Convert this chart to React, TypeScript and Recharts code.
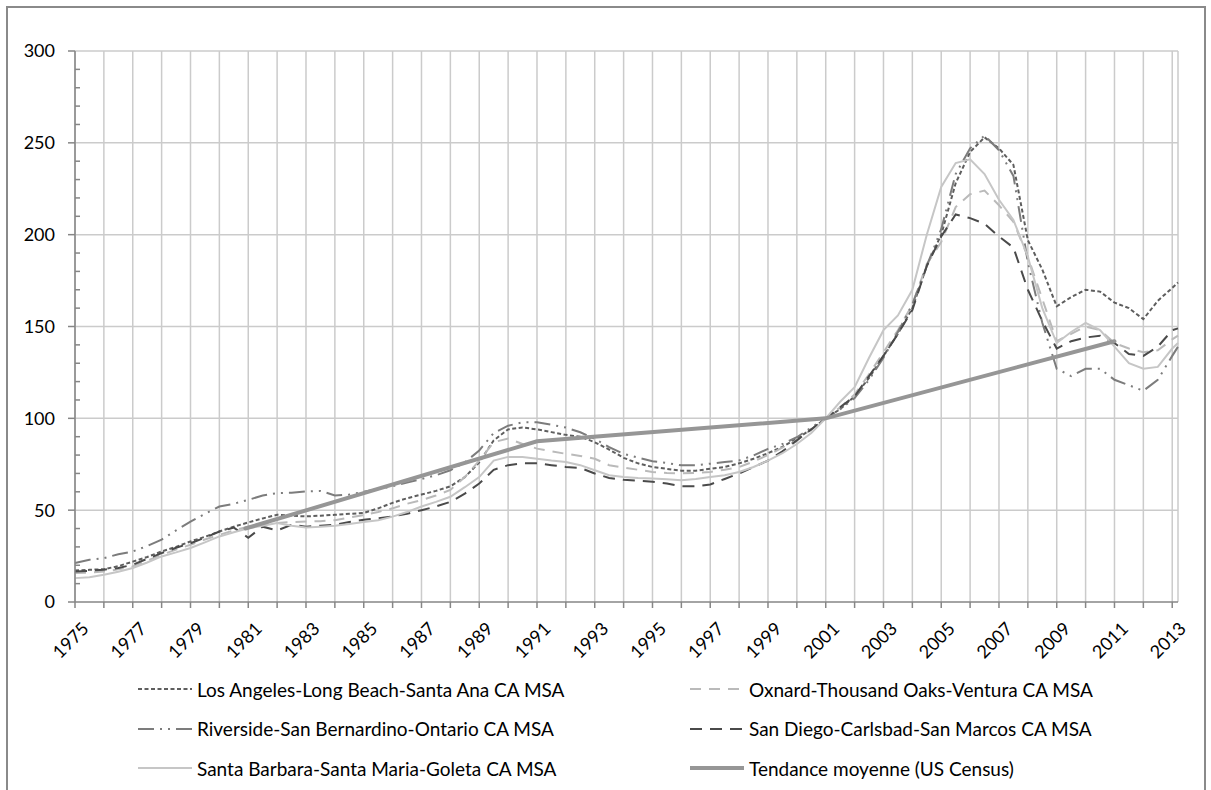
import React from 'react';
import { LineChart, Line, XAxis, YAxis, CartesianGrid, ReferenceLine } from 'recharts';

// half-year time points (the last one is the final quarter shown)
const TIMES = [
  1975, 1975.5, 1976, 1976.5, 1977, 1977.5, 1978, 1978.5, 1979, 1979.5,
  1980, 1980.5, 1981, 1981.5, 1982, 1982.5, 1983, 1983.5, 1984, 1984.5,
  1985, 1985.5, 1986, 1986.5, 1987, 1987.5, 1988, 1988.5, 1989, 1989.5,
  1990, 1990.5, 1991, 1991.5, 1992, 1992.5, 1993, 1993.5, 1994, 1994.5,
  1995, 1995.5, 1996, 1996.5, 1997, 1997.5, 1998, 1998.5, 1999, 1999.5,
  2000, 2000.5, 2001, 2001.5, 2002, 2002.5, 2003, 2003.5, 2004, 2004.5,
  2005, 2005.5, 2006, 2006.5, 2007, 2007.5, 2008, 2008.5, 2009, 2009.5,
  2010, 2010.5, 2011, 2011.5, 2012, 2012.5, 2013, 2013.2,
];

const LOS_ANGELES = [
  17.2, 17.5, 17.9, 19.5, 22, 24.5, 27.5, 30, 33, 35.5,
  38.4, 41, 43.3, 45.5, 47.5, 47, 46.6, 47, 47.5, 48,
  48.5, 51, 54, 56.5, 58.5, 60.5, 63, 68, 76, 88,
  94, 95, 94, 92.5, 91, 90, 87, 83, 78.5, 75.5,
  73.5, 72.5, 71.5, 71.5, 72.5, 73.5, 75.5, 78, 81, 84.5,
  89, 94, 100, 105, 112, 122, 134, 146, 160, 183,
  200, 228, 245, 253, 247, 238, 197, 181, 161, 166,
  170, 169, 163, 160, 154, 164, 171, 174,
];

const OXNARD = [
  15.8, 16, 16.6, 17.8, 19.4, 22.5, 25.7, 28.5, 31.2, 34,
  36.6, 39, 41, 42, 43, 43.5, 43.8, 44, 44.5, 46,
  47.3, 49, 51, 53.5, 55.5, 58, 61, 68, 77, 87,
  89, 86, 83.5, 82, 80.7, 79.5, 78, 74.5, 73.2, 72,
  70.8, 70.3, 70, 70.3, 70.8, 72, 73.5, 76.5, 80, 84,
  88, 94, 100, 106, 113, 124, 136, 148, 162, 184,
  196, 215, 222, 224, 216, 207, 188, 165, 142, 146,
  150, 148, 141, 138, 136, 137, 143, 145,
];

const RIVERSIDE = [
  21.2, 23, 23.9, 26, 27.5, 30.5, 34, 39, 43.8, 48,
  52, 53.5, 55.6, 58, 59.3, 59.5, 60.2, 60.5, 58, 58.5,
  60, 61.5, 63, 65, 67, 69, 71.7, 76, 82.5, 92,
  96, 97.8, 97.8, 96.5, 95, 92.4, 88.8, 84.3, 80.7, 78.6,
  76.6, 75.7, 74.4, 74.4, 75.3, 76.2, 77.1, 79.8, 83.4, 86,
  89.7, 95, 100, 105, 111, 121, 133, 147, 162, 183,
  203, 233, 247, 254, 246, 232, 185, 152, 127, 123,
  127, 127, 121, 118, 115, 121, 134, 139,
];

const SAN_DIEGO = [
  16.6, 17, 17.6, 18.5, 20.3, 23.5, 26.6, 29.5, 32, 35,
  38.4, 40.5, 35, 41, 39, 42, 41, 41.5, 42, 43.5,
  44.8, 45.5, 46.6, 48, 50, 52, 54.5, 59, 64.5, 72,
  74.5, 75.5, 75.5, 74.5, 73.5, 73, 70, 67.5, 66.5, 66,
  65.5, 64.5, 63, 63, 64, 67, 70, 73.5, 77, 82,
  88, 94, 100, 106, 112, 123, 134, 146, 159, 183,
  199, 211, 209, 206, 199, 193, 170, 153, 138, 142,
  144, 145, 141, 135, 134, 139, 148, 149,
];

const SANTA_BARBARA = [
  13, 13.5, 14.8, 16.5, 18.5, 21.5, 24.8, 27, 29.4, 32.5,
  35.7, 38, 40.2, 41.5, 43, 41.5, 40.5, 41, 41.5, 42.5,
  43.5, 44.5, 46.5, 49, 52, 54.5, 57.3, 62.5, 68, 77,
  79, 79, 78, 77, 76.2, 74.5, 71.7, 69, 68, 67.5,
  67.2, 66.8, 66.3, 67, 68, 69, 70.8, 73.5, 77, 81,
  86, 92, 100, 109, 117, 133, 148, 156, 170, 200,
  226, 239, 241, 233, 219, 208, 188, 160, 141, 147,
  152, 148, 139, 130, 127, 128, 138, 141,
];

// census trend
const TREND_T = [1980.9, 1991, 2001, 2011];
const TREND_V = [40, 87.5, 100, 142];

const YEARS = [
  1975, 1976, 1977, 1978, 1979, 1980, 1981, 1982, 1983, 1984, 1985, 1986, 1987,
  1988, 1989, 1990, 1991, 1992, 1993, 1994, 1995, 1996, 1997, 1998, 1999, 2000,
  2001, 2002, 2003, 2004, 2005, 2006, 2007, 2008, 2009, 2010, 2011, 2012, 2013,
];
const Y_TICKS = [0, 10, 20, 30, 40, 50, 60, 70, 80, 90, 100, 110, 120, 130, 140, 150,
  160, 170, 180, 190, 200, 210, 220, 230, 240, 250, 260, 270, 280, 290, 300];
const Y_GRID = [50, 100, 150, 200, 250, 300];

const SERIES = [
  { key: 'la', name: 'Los Angeles-Long Beach-Santa Ana CA MSA', color: '#5e5e5e', width: 2, dash: '4 2.5', col: 0, row: 0 },
  { key: 'ox', name: 'Oxnard-Thousand Oaks-Ventura CA MSA', color: '#bababa', width: 2, dash: '11 8', col: 1, row: 0 },
  { key: 'rv', name: 'Riverside-San Bernardino-Ontario CA MSA', color: '#7c7c7c', width: 2, dash: '16 6 2 6 2 6', col: 0, row: 1 },
  { key: 'sd', name: 'San Diego-Carlsbad-San Marcos CA MSA', color: '#4a4a4a', width: 2, dash: '12 8', col: 1, row: 1 },
  { key: 'sb', name: 'Santa Barbara-Santa Maria-Goleta CA MSA', color: '#c6c6c6', width: 2, dash: undefined, col: 0, row: 2 },
  { key: 'tr', name: 'Tendance moyenne (US Census)', color: '#969696', width: 4, dash: undefined, col: 1, row: 2 },
];

const rows = TIMES.map((t, i) => ({
  t,
  la: LOS_ANGELES[i],
  ox: OXNARD[i],
  rv: RIVERSIDE[i],
  sd: SAN_DIEGO[i],
  sb: SANTA_BARBARA[i],
}));
const trendRows = TREND_T.map((t, i) => ({ t, tr: TREND_V[i] }));

const FONT = 'Lato, "Open Sans", sans-serif';
const AXIS = '#868686';
const GRID = '#cbcbcb';

const YTick = (props: any) => {
  const { x, y, payload } = props;
  const v = payload.value;
  if (v % 50 === 0) {
    return (
      <g>
        <line x1={x - 7} x2={x} y1={y} y2={y} stroke={AXIS} strokeWidth={1.5} />
        <text x={x - 20} y={y} dy="0.36em" textAnchor="end" fontSize={18} fontFamily={FONT} fill="#000">
          {v}
        </text>
      </g>
    );
  }
  return <line x1={x} x2={x + 5} y1={y} y2={y} stroke={AXIS} strokeWidth={1.5} />;
};

const XTick = (props: any) => {
  const { x, y, payload } = props;
  const v = payload.value;
  if (v % 2 === 0) return <g />;
  const ax = x + 6;
  const ay = y + 11;
  return (
    <text x={ax} y={ay} transform={`rotate(-45, ${ax}, ${ay})`} textAnchor="end" dy="0.7em"
      fontSize={18} fontFamily={FONT} fill="#000">
      {v}
    </text>
  );
};

const Legend6 = () => (
  <div style={{ position: 'absolute', left: 0, top: 0, width: 1211, height: 790, pointerEvents: 'none' }}>
    {SERIES.map((s) => {
      const left = s.col === 0 ? 138 : 690;
      const top = 689 + s.row * 39.5;
      return (
        <div key={s.key} style={{ position: 'absolute', left, top: top - 12, height: 24, display: 'flex', alignItems: 'center' }}>
          <svg width={54} height={24}>
            <line x1={0} x2={54} y1={12} y2={12} stroke={s.color} strokeWidth={s.width}
              strokeDasharray={s.dash} strokeLinecap={s.key === 'tr' ? 'round' : 'butt'} />
          </svg>
          <span style={{ marginLeft: 5, fontFamily: FONT, fontSize: 19, color: '#000', whiteSpace: 'nowrap' }}>{s.name}</span>
        </div>
      );
    })}
  </div>
);

export default function App() {
  return (
    <div style={{ position: 'absolute', left: 0, top: 0, width: 1211, height: 790, overflow: 'hidden', background: '#fff' }}>
      <div style={{ position: 'absolute', left: 6, top: 6, width: 1196, height: 820, border: '2px solid #8a8a8a' }} />
      <div style={{ position: 'absolute', left: 0, top: 0 }}>
        <LineChart width={1211} height={790} data={rows} margin={{ top: 51, right: 33, bottom: 121, left: 15 }}>
          <CartesianGrid horizontal={false} stroke={GRID} strokeWidth={1.5} />
          {Y_GRID.map((g) => (
            <ReferenceLine key={g} y={g} stroke={GRID} strokeWidth={1.5} ifOverflow="extendDomain" />
          ))}
          <XAxis dataKey="t" type="number" domain={[1975, 2013.2]} ticks={YEARS} interval={0}
            allowDuplicatedCategory={false} height={67} stroke={AXIS} strokeWidth={1.5}
            tickSize={6} tickLine={{ stroke: AXIS, strokeWidth: 1.5 }} tick={<XTick />} />
          <YAxis type="number" domain={[0, 300]} ticks={Y_TICKS} interval={0} width={60}
            stroke={AXIS} strokeWidth={1.5} tickLine={false} tickSize={0} tickMargin={0} tick={<YTick />} />
          {SERIES.filter((s) => s.key !== 'tr').map((s) => (
            <Line key={s.key} dataKey={s.key} name={s.name} type="linear" stroke={s.color}
              strokeWidth={s.width} strokeDasharray={s.dash} dot={false} activeDot={false}
              isAnimationActive={false} />
          ))}
          <Line data={trendRows} dataKey="tr" name={SERIES[5].name} type="linear" stroke={SERIES[5].color}
            strokeWidth={4} strokeLinecap="round" dot={false} activeDot={false} isAnimationActive={false} />
        </LineChart>
      </div>
      <Legend6 />
    </div>
  );
}
